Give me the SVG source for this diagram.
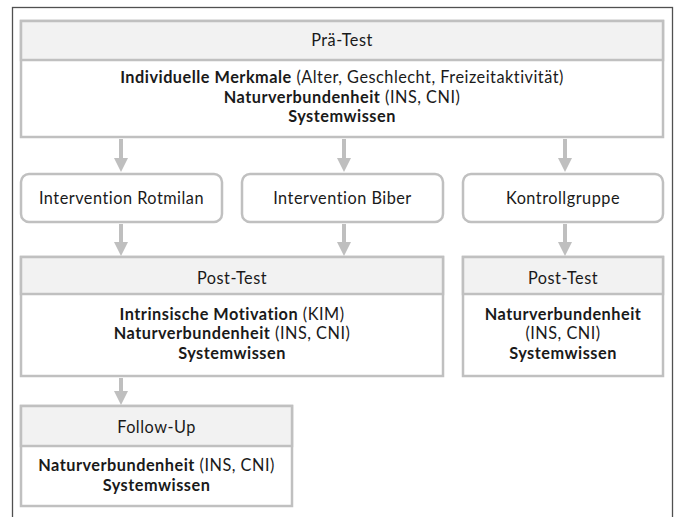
<svg xmlns="http://www.w3.org/2000/svg" width="677" height="517" viewBox="0 0 677 517">
<style>
text{font-family:Lato,"Open Sans",sans-serif;font-size:16.3px;letter-spacing:0.5px;fill:#1a1a1a;text-anchor:middle}
.b{font-weight:bold}
.box{fill:#fff;stroke:#c0c0c0;stroke-width:2.5}
.hdr{fill:#f2f2f2;stroke:#c0c0c0;stroke-width:2.5}
.conn{stroke:#bfbfbf;stroke-width:4;fill:none}
.head{fill:#bfbfbf}
</style>
<rect x="12.5" y="7.5" width="660" height="520" fill="#fff" stroke="#505050" stroke-width="1.3"/>
<g id="connectors">
<line class="conn" x1="121" y1="139" x2="121" y2="158"/><path class="head" d="M114,158 L128,158 L121,172 Z"/>
<line class="conn" x1="344" y1="139" x2="344" y2="158"/><path class="head" d="M337,158 L351,158 L344,172 Z"/>
<line class="conn" x1="565" y1="139" x2="565" y2="158"/><path class="head" d="M558,158 L572,158 L565,172 Z"/>
<line class="conn" x1="121" y1="224" x2="121" y2="242"/><path class="head" d="M114,242 L128,242 L121,256 Z"/>
<line class="conn" x1="344" y1="224" x2="344" y2="242"/><path class="head" d="M337,242 L351,242 L344,256 Z"/>
<line class="conn" x1="565" y1="224" x2="565" y2="242"/><path class="head" d="M558,242 L572,242 L565,256 Z"/>
<line class="conn" x1="121" y1="378" x2="121" y2="391"/><path class="head" d="M114,391 L128,391 L121,405 Z"/>
</g>
<g id="pretest">
<rect class="box" x="21" y="21" width="642" height="116"/>
<rect class="hdr" x="21" y="21" width="642" height="39"/>
<text x="342" y="46">Prä-Test</text>
<text x="342" y="83"><tspan class="b">Individuelle Merkmale</tspan> (Alter, Geschlecht, Freizeitaktivität)</text>
<text x="342" y="102.5"><tspan class="b">Naturverbundenheit</tspan> (INS, CNI)</text>
<text x="342" y="122" class="b">Systemwissen</text>
</g>
<g id="rotmilan">
<rect class="box" x="21" y="174" width="201" height="48" rx="8"/>
<text x="121.5" y="204">Intervention Rotmilan</text>
</g>
<g id="biber">
<rect class="box" x="242" y="174" width="201" height="48" rx="8"/>
<text x="342.5" y="204">Intervention Biber</text>
</g>
<g id="kontroll">
<rect class="box" x="463" y="174" width="200" height="48" rx="8"/>
<text x="563" y="204">Kontrollgruppe</text>
</g>
<g id="posttest1">
<rect class="box" x="21" y="257" width="422" height="119"/>
<rect class="hdr" x="21" y="257" width="422" height="37"/>
<text x="232" y="283.5">Post-Test</text>
<text x="232" y="319.5"><tspan class="b">Intrinsische Motivation</tspan> (KIM)</text>
<text x="232" y="339"><tspan class="b">Naturverbundenheit</tspan> (INS, CNI)</text>
<text x="232" y="358.5" class="b">Systemwissen</text>
</g>
<g id="posttest2">
<rect class="box" x="463" y="257" width="200" height="119"/>
<rect class="hdr" x="463" y="257" width="200" height="37"/>
<text x="563" y="283.5">Post-Test</text>
<text x="563" y="319.5" class="b">Naturverbundenheit</text>
<text x="563" y="339">(INS, CNI)</text>
<text x="563" y="358.5" class="b">Systemwissen</text>
</g>
<g id="followup">
<rect class="box" x="21" y="406" width="271" height="100"/>
<rect class="hdr" x="21" y="406" width="271" height="40"/>
<text x="156.5" y="433">Follow-Up</text>
<text x="156.5" y="471"><tspan class="b">Naturverbundenheit</tspan> (INS, CNI)</text>
<text x="156.5" y="490.5" class="b">Systemwissen</text>
</g>
</svg>
